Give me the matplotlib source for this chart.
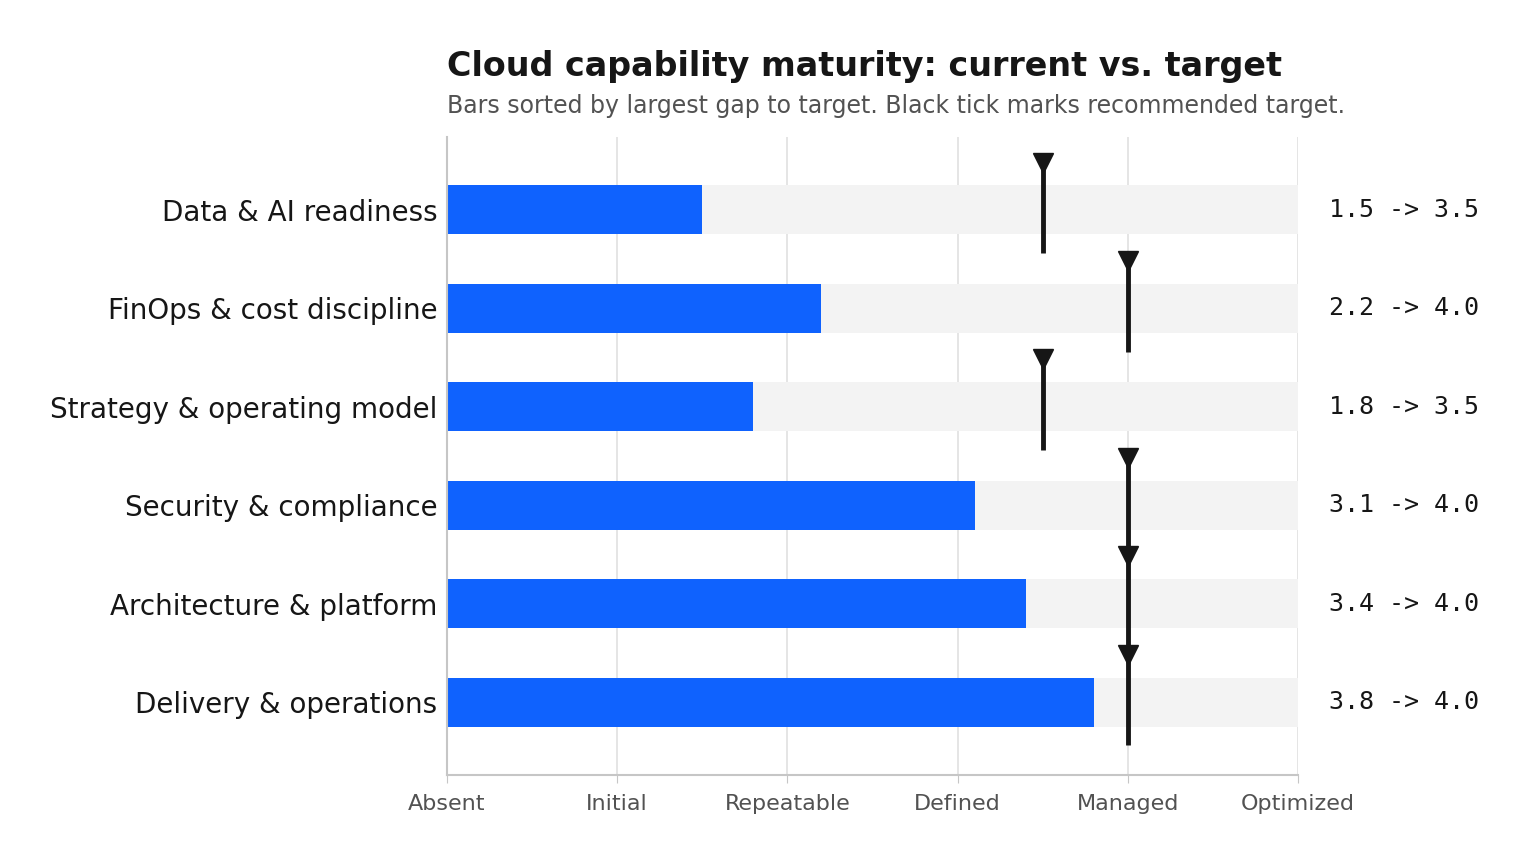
import matplotlib.pyplot as plt
import numpy as np

plt.rcParams['font.family'] = ['DejaVu Sans']

# capabilities, sorted by largest gap to target
capabilities = ['Data & AI readiness', 'FinOps & cost discipline', 'Strategy & operating model',
                'Security & compliance', 'Architecture & platform', 'Delivery & operations']
current = [1.5, 2.2, 1.8, 3.1, 3.4, 3.8]
target = [3.5, 4.0, 3.5, 4.0, 4.0, 4.0]
levels = ['Absent', 'Initial', 'Repeatable', 'Defined', 'Managed', 'Optimized']

fig = plt.figure(figsize=(15.28, 8.64), dpi=100)
ax = fig.add_axes([0.2925, 0.103, 0.557, 0.7385])

y = np.arange(len(capabilities))

# background track and current-state bars
ax.barh(y, [5] * len(y), height=0.5, color='#f3f3f3', zorder=1)
ax.barh(y, current, height=0.5, color='#0f62fe', zorder=2)

# target tick marks
for i, t in enumerate(target):
    ax.plot([t, t], [i - 0.44, i + 0.44], color='#161616', lw=3.5, zorder=3, solid_capstyle='butt')
    ax.plot(t, i - 0.48, marker='v', markersize=14, color='#161616', zorder=4)
    ax.text(5.18, i, f'{current[i]:.1f} -> {t:.1f}', va='center', ha='left',
            family='DejaVu Sans Mono', fontsize=18, color='#161616', clip_on=False)

ax.set_xlim(0, 5)
ax.set_ylim(5.74, -0.74)
ax.set_xticks(range(6))
ax.set_xticklabels(levels, fontsize=16, color='#525252')
ax.set_yticks(y)
ax.set_yticklabels(capabilities, fontsize=20, color='#161616')
ax.tick_params(axis='y', length=0, pad=7)
ax.tick_params(axis='x', length=6, color='#c6c6c6', pad=8)

ax.grid(axis='x', color='#e0e0e0', lw=1.2, zorder=0)
ax.set_axisbelow(True)
for s in ['top', 'right']:
    ax.spines[s].set_visible(False)
for s in ['left', 'bottom']:
    ax.spines[s].set_color('#c6c6c6')
    ax.spines[s].set_linewidth(1.5)

fig.text(0.2925, 0.923, 'Cloud capability maturity: current vs. target',
         fontsize=24, fontweight='bold', color='#161616', va='center')
fig.text(0.2925, 0.877, 'Bars sorted by largest gap to target. Black tick marks recommended target.',
         fontsize=17, color='#525252', va='center')

fig.savefig('out.png', dpi=100)
